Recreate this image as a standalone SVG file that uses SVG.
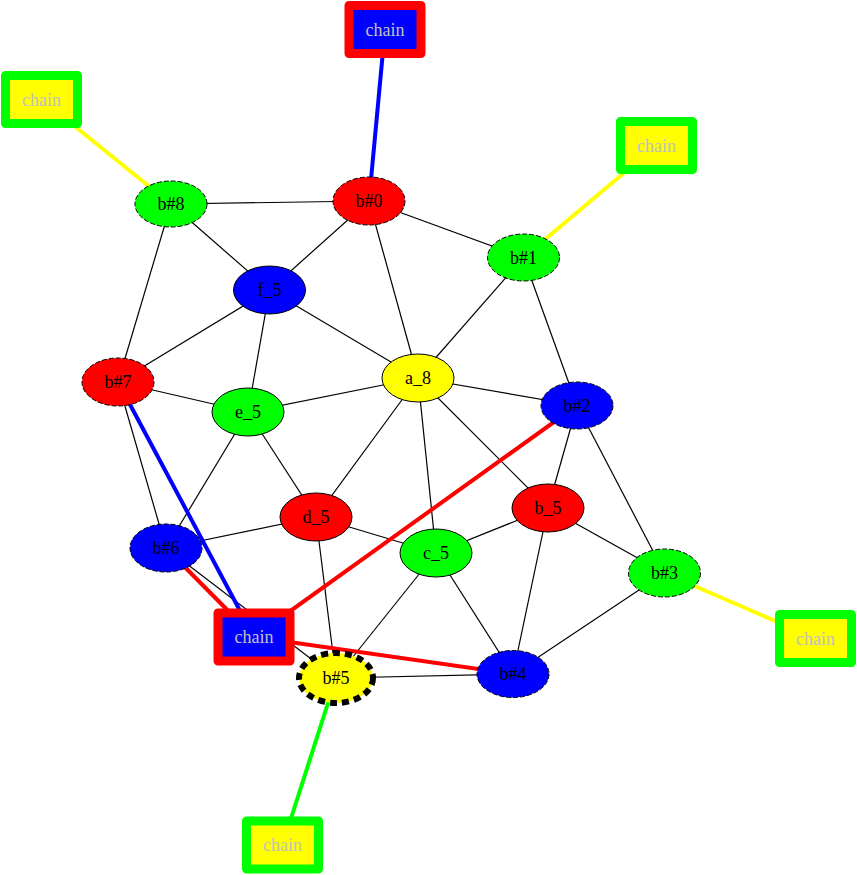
<svg xmlns="http://www.w3.org/2000/svg" width="857" height="875" viewBox="0 0 857 875">
<style>
.e{stroke:#000;stroke-width:1.2;fill:none}
.c{stroke-width:4;fill:none}
.n{stroke:#000;stroke-width:1}
.d{stroke-dasharray:5,2}
.t{font-family:"Liberation Serif","Times New Roman",serif;font-size:18px;text-anchor:middle;fill:#000}
.ct{font-family:"Liberation Serif","Times New Roman",serif;font-size:18px;text-anchor:middle;fill:#c0c0c0}
.ch{stroke-width:9;stroke-linejoin:round}
</style>
<rect width="857" height="875" fill="#fff"/>
<g id="edges">
<line class="e" x1="369" y1="201" x2="171" y2="204"/>
<line class="e" x1="369" y1="201" x2="269.5" y2="290"/>
<line class="e" x1="369" y1="201" x2="418" y2="378"/>
<line class="e" x1="369" y1="201" x2="523.5" y2="257.5"/>
<line class="e" x1="171" y1="204" x2="269.5" y2="290"/>
<line class="e" x1="171" y1="204" x2="118" y2="382"/>
<line class="e" x1="523.5" y1="257.5" x2="418" y2="378"/>
<line class="e" x1="523.5" y1="257.5" x2="577" y2="405.5"/>
<line class="e" x1="269.5" y1="290" x2="118" y2="382"/>
<line class="e" x1="269.5" y1="290" x2="248" y2="412"/>
<line class="e" x1="269.5" y1="290" x2="418" y2="378"/>
<line class="e" x1="118" y1="382" x2="248" y2="412"/>
<line class="e" x1="118" y1="382" x2="166" y2="548"/>
<line class="e" x1="248" y1="412" x2="418" y2="378"/>
<line class="e" x1="248" y1="412" x2="166" y2="548"/>
<line class="e" x1="248" y1="412" x2="316" y2="517"/>
<line class="e" x1="418" y1="378" x2="577" y2="405.5"/>
<line class="e" x1="418" y1="378" x2="316" y2="517"/>
<line class="e" x1="418" y1="378" x2="436" y2="553"/>
<line class="e" x1="418" y1="378" x2="548" y2="508"/>
<line class="e" x1="577" y1="405.5" x2="548" y2="508"/>
<line class="e" x1="577" y1="405.5" x2="664.5" y2="573"/>
<line class="e" x1="316" y1="517" x2="166" y2="548"/>
<line class="e" x1="316" y1="517" x2="436" y2="553"/>
<line class="e" x1="316" y1="517" x2="336" y2="678"/>
<line class="e" x1="548" y1="508" x2="436" y2="553"/>
<line class="e" x1="548" y1="508" x2="664.5" y2="573"/>
<line class="e" x1="548" y1="508" x2="513" y2="674"/>
<line class="e" x1="436" y1="553" x2="336" y2="678"/>
<line class="e" x1="436" y1="553" x2="513" y2="674"/>
<line class="e" x1="664.5" y1="573" x2="513" y2="674"/>
<line class="e" x1="513" y1="674" x2="336" y2="678"/>
<line class="e" x1="166" y1="548" x2="336" y2="678"/>
<line class="c" stroke="#0000ff" x1="385" y1="29.5" x2="369" y2="201"/>
<line class="c" stroke="#ffff00" x1="41.5" y1="99.5" x2="171" y2="204"/>
<line class="c" stroke="#ffff00" x1="656.5" y1="145.5" x2="523.5" y2="257.5"/>
<line class="c" stroke="#ffff00" x1="815.5" y1="638.5" x2="664.5" y2="573"/>
<line class="c" stroke="#00ff00" x1="282.5" y1="845" x2="336" y2="678"/>
<line class="c" stroke="#0000ff" x1="254" y1="637" x2="118" y2="382"/>
<line class="c" stroke="#ff0000" x1="254" y1="637" x2="166" y2="548"/>
<line class="c" stroke="#ff0000" x1="254" y1="637" x2="577" y2="405.5"/>
<line class="c" stroke="#ff0000" x1="254" y1="637" x2="513" y2="674"/>
</g>
<g id="b0"><ellipse class="n d" cx="369" cy="201" rx="36" ry="24" fill="#ff0000"/><text class="t" x="369" y="207">b#0</text></g>
<g id="b8"><ellipse class="n d" cx="171" cy="204" rx="36" ry="23" fill="#00ff00"/><text class="t" x="171" y="210">b#8</text></g>
<g id="b1"><ellipse class="n d" cx="523.5" cy="257.5" rx="36" ry="23.5" fill="#00ff00"/><text class="t" x="523.5" y="263.5">b#1</text></g>
<g id="f_5"><ellipse class="n" cx="269.5" cy="290" rx="36" ry="24" fill="#0000ff"/><text class="t" x="269.5" y="296">f_5</text></g>
<g id="b7"><ellipse class="n d" cx="118" cy="382" rx="36" ry="24" fill="#ff0000"/><text class="t" x="118" y="388">b#7</text></g>
<g id="a_8"><ellipse class="n" cx="418" cy="378" rx="36" ry="24" fill="#ffff00"/><text class="t" x="418" y="384">a_8</text></g>
<g id="e_5"><ellipse class="n" cx="248" cy="412" rx="36" ry="24" fill="#00ff00"/><text class="t" x="248" y="418">e_5</text></g>
<g id="b2"><ellipse class="n d" cx="577" cy="405.5" rx="36" ry="23.5" fill="#0000ff"/><text class="t" x="577" y="411.5">b#2</text></g>
<g id="d_5"><ellipse class="n" cx="316" cy="517" rx="36" ry="24" fill="#ff0000"/><text class="t" x="316" y="523">d_5</text></g>
<g id="b_5"><ellipse class="n" cx="548" cy="508" rx="36" ry="24" fill="#ff0000"/><text class="t" x="548" y="514">b_5</text></g>
<g id="b6"><ellipse class="n d" cx="166" cy="548" rx="36" ry="24" fill="#0000ff"/><text class="t" x="166" y="554">b#6</text></g>
<g id="c_5"><ellipse class="n" cx="436" cy="553" rx="36" ry="24" fill="#00ff00"/><text class="t" x="436" y="559">c_5</text></g>
<g id="b3"><ellipse class="n d" cx="664.5" cy="573" rx="36" ry="24" fill="#00ff00"/><text class="t" x="664.5" y="579">b#3</text></g>
<g id="b4"><ellipse class="n d" cx="513" cy="674" rx="36" ry="23.5" fill="#0000ff"/><text class="t" x="513" y="680">b#4</text></g>
<g id="b5"><ellipse cx="336" cy="678" rx="37" ry="25" fill="#ffff00" stroke="#000" stroke-width="6" stroke-dasharray="7,5"/><text class="t" x="336" y="684">b#5</text></g>
<g id="chain_top"><rect class="ch" x="349" y="5.5" width="72" height="48" fill="#0000ff" stroke="#ff0000"/><text class="ct" x="385" y="35.5">chain</text></g>
<g id="chain_tl"><rect class="ch" x="5.5" y="75.5" width="72" height="48" fill="#ffff00" stroke="#00ff00"/><text class="ct" x="41.5" y="105.5">chain</text></g>
<g id="chain_tr"><rect class="ch" x="620.5" y="121.5" width="72" height="48" fill="#ffff00" stroke="#00ff00"/><text class="ct" x="656.5" y="151.5">chain</text></g>
<g id="chain_r"><rect class="ch" x="779.5" y="614.5" width="72" height="48" fill="#ffff00" stroke="#00ff00"/><text class="ct" x="815.5" y="644.5">chain</text></g>
<g id="chain_b"><rect class="ch" x="246.5" y="821" width="72" height="48" fill="#ffff00" stroke="#00ff00"/><text class="ct" x="282.5" y="851">chain</text></g>
<g id="chain_mid"><rect class="ch" x="218" y="613" width="72" height="48" fill="#0000ff" stroke="#ff0000"/><text class="ct" x="254" y="643">chain</text></g>
</svg>
